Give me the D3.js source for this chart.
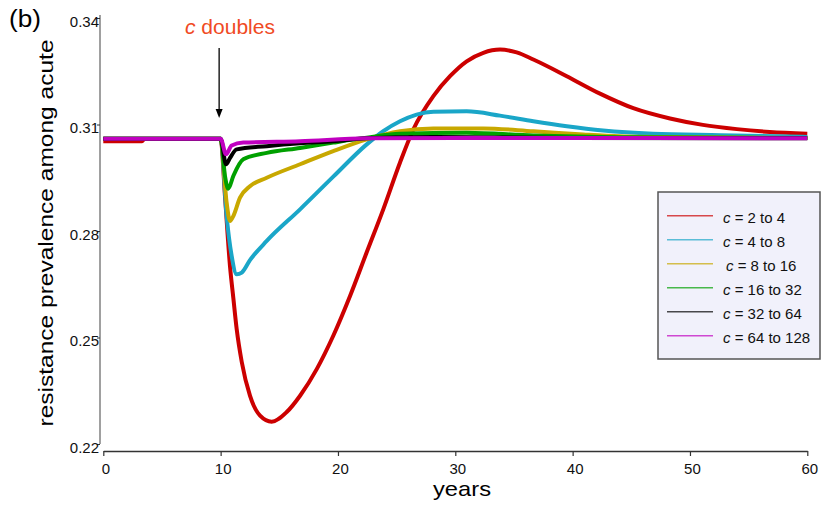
<!DOCTYPE html>
<html>
<head>
<meta charset="utf-8">
<script src="https://cdn.jsdelivr.net/npm/d3@7"></script>
<style>
  body { margin: 0; background: #fff; }
  text { font-family: "Liberation Sans", Arial, sans-serif; }
</style>
</head>
<body>
<svg id="chart"></svg>
<script>
// Series data: years and resistance prevalence
const tRed = [0, 3.3, 3.5, 10, 10.37, 10.8, 11.08, 11.37, 11.8, 12.5, 13.36, 14.35, 15.63, 16.77, 18.19, 19.6, 21.03, 22.45, 23.86, 25.29, 26.42, 28.13, 29.55, 30.97, 32.39, 33.81, 35.23, 36.65, 39.5, 42.33, 45.17, 48.3, 51.1, 54.0, 56.8, 60];
const vRed = [0.3053, 0.3053, 0.3059, 0.3059, 0.2898, 0.2700, 0.2612, 0.2523, 0.2431, 0.2336, 0.2280, 0.2263, 0.2290, 0.2336, 0.2411, 0.2505, 0.2617, 0.2740, 0.2861, 0.2993, 0.3086, 0.3180, 0.3236, 0.3278, 0.3302, 0.3311, 0.3303, 0.3283, 0.3236, 0.3187, 0.3146, 0.3117, 0.3099, 0.3087, 0.3079, 0.3074];

const tCyan = [0, 10, 10.51, 10.94, 11.37, 11.8, 12.5, 13.93, 16.77, 19.6, 22.45, 23.86, 25.29, 26.7, 28.13, 30.97, 33.81, 36.65, 39.5, 42.6, 46.85, 52.6, 60];
const vCyan = [0.306, 0.306, 0.2842, 0.2730, 0.2678, 0.2683, 0.2718, 0.2772, 0.2861, 0.2953, 0.3044, 0.3081, 0.3109, 0.3128, 0.3136, 0.3137, 0.3125, 0.3109, 0.3095, 0.3083, 0.3074, 0.3070, 0.3065];

const tGold = [0, 10, 10.51, 10.8, 11.08, 11.65, 12.5, 13.93, 16.77, 19.6, 22.45, 25.29, 28.13, 32.39, 36.65, 40.9, 44, 50, 60];
const vGold = [0.306, 0.306, 0.2880, 0.2828, 0.2842, 0.2894, 0.2926, 0.2950, 0.2988, 0.3025, 0.3058, 0.3081, 0.3089, 0.3089, 0.3081, 0.3072, 0.3067, 0.3064, 0.3062];

const tGreen = [0, 10, 10.37, 10.65, 11.08, 11.93, 13.93, 16.77, 19.6, 22.45, 25.29, 30.97, 36.65, 45, 60];
const vGreen = [0.306, 0.306, 0.2955, 0.2919, 0.2955, 0.3002, 0.3020, 0.3034, 0.3049, 0.3063, 0.3074, 0.3077, 0.3069, 0.3064, 0.3062];

const tBlack = [0, 10, 10.46, 10.8, 11.37, 13.93, 16.77, 19.6, 22.45, 28.13, 40, 60];
const vBlack = [0.306, 0.306, 0.2988, 0.3006, 0.3030, 0.3039, 0.3047, 0.3053, 0.3061, 0.3065, 0.3062, 0.3061];

const tMagenta = [0, 10, 10.46, 10.94, 11.93, 16.77, 22.45, 30, 60];
const vMagenta = [0.306, 0.306, 0.3016, 0.3041, 0.3049, 0.3053, 0.3061, 0.3062, 0.3061];

const seriesNames = ["2 to 4", "4 to 8", "8 to 16", "16 to 32", "32 to 64", "64 to 128"];
const seriesColors = ["#cc0000", "#1aa6c8", "#c8a800", "#00a000", "#000000", "#c000c0"];

const xTicks = [0, 10, 20, 30, 40, 50, 60];
const yTicks = [0.22, 0.25, 0.28, 0.31, 0.34];
const yTickLabels = ["0.22", "0.25", "0.28", "0.31", "0.34"];

const shockYear = 10;

// Dimensions
const width = 821;
const height = 512;

const svg = d3.select("#chart")
    .attr("width", width)
    .attr("height", height);

// Scales
const x = d3.scaleLinear().domain([0, 60]).range([103.3, 807.3]);
const y = d3.scaleLinear().domain([0.22, 0.34]).range([444, 18]);

// Y axis
const yAxis = svg.append("g")
    .attr("transform", "translate(100,0)")
    .call(d3.axisLeft(y)
        .tickValues(yTicks)
        .tickFormat((d, i) => yTickLabels[i])
        .tickSize(3)
        .tickSizeOuter(0)
        .tickPadding(-2));
yAxis.select(".domain").attr("stroke", "#808080").attr("stroke-width", 1.5)
    .attr("d", "M0,15V444");
yAxis.selectAll(".tick line").attr("stroke", "#333");
yAxis.selectAll(".tick text")
    .attr("dy", "0.55em")
    .style("font-size", "15px")
    .attr("fill", "#111");

// X axis
const xAxis = svg.append("g")
    .attr("transform", "translate(0,451)")
    .call(d3.axisBottom(x)
        .tickValues(xTicks)
        .tickSize(5)
        .tickSizeOuter(0)
        .tickPadding(7));
xAxis.select(".domain").attr("stroke", "#333").attr("stroke-width", 1.5);
xAxis.selectAll(".tick line").attr("stroke", "#333").attr("stroke-width", 1.2);
xAxis.selectAll(".tick text")
    .attr("dx", "2")
    .style("font-size", "15px")
    .attr("fill", "#111");

// Lines
const line = d3.line()
    .x(d => x(d[0]))
    .y(d => y(d[1]))
    .curve(d3.curveMonotoneX);

const series = [
    [tRed, vRed], [tCyan, vCyan], [tGold, vGold],
    [tGreen, vGreen], [tBlack, vBlack], [tMagenta, vMagenta]
].map(([t, v]) => t.map((d, i) => [d, v[i]]));

svg.append("g")
    .selectAll("path")
    .data(series)
  .enter().append("path")
    .attr("d", line)
    .attr("fill", "none")
    .attr("stroke", (d, i) => seriesColors[i])
    .attr("stroke-width", 4)
    .attr("stroke-linejoin", "round");

// Annotation: "c doubles" with arrow
const ax = x(shockYear) - 1.5;
svg.append("line")
    .attr("x1", ax).attr("x2", ax)
    .attr("y1", 48).attr("y2", 111)
    .attr("stroke", "#000").attr("stroke-width", 1.3);
svg.append("path")
    .attr("d", `M${ax - 3.5},109L${ax + 3.5},109L${ax},118Z`)
    .attr("fill", "#000");

const ann = svg.append("text")
    .attr("x", 185).attr("y", 34)
    .attr("fill", "#f04a24")
    .style("font-size", "20px")
    .attr("textLength", 90)
    .attr("lengthAdjust", "spacingAndGlyphs");
ann.append("tspan").style("font-style", "italic").text("c");
ann.append("tspan").text(" doubles");

// Panel label
svg.append("text")
    .attr("x", 9).attr("y", 27)
    .style("font-size", "23px")
    .attr("textLength", 32)
    .attr("lengthAdjust", "spacingAndGlyphs")
    .text("(b)");

// Axis titles
svg.append("text")
    .attr("x", 462).attr("y", 496)
    .attr("text-anchor", "middle")
    .style("font-size", "21px")
    .attr("textLength", 58)
    .attr("lengthAdjust", "spacingAndGlyphs")
    .text("years");

svg.append("text")
    .attr("transform", "translate(53,233) rotate(-90)")
    .attr("text-anchor", "middle")
    .style("font-size", "21px")
    .attr("textLength", 387)
    .attr("lengthAdjust", "spacingAndGlyphs")
    .text("resistance prevalence among acute");

// Legend
const legend = svg.append("g");
legend.append("rect")
    .attr("x", 658).attr("y", 192)
    .attr("width", 162).attr("height", 167)
    .attr("fill", "#f1f1fb")
    .attr("stroke", "#555")
    .attr("stroke-width", 1.5);

const items = legend.selectAll(".item")
    .data(seriesNames)
  .enter().append("g")
    .attr("class", "item")
    .attr("transform", (d, i) => `translate(0,${215.7 + i * 24})`);

items.append("line")
    .attr("x1", 667).attr("x2", 713)
    .attr("stroke", (d, i) => seriesColors[i])
    .attr("stroke-opacity", 0.7)
    .attr("stroke-width", 1.5);

const itemText = items.append("text")
    .attr("x", (d, i) => i === 2 ? 726 : 723)
    .attr("y", 7.5)
    .style("font-size", "15px")
    .attr("fill", "#111");
itemText.append("tspan").style("font-style", "italic").text("c");
itemText.append("tspan").text(d => " = " + d);
</script>
</body>
</html>
